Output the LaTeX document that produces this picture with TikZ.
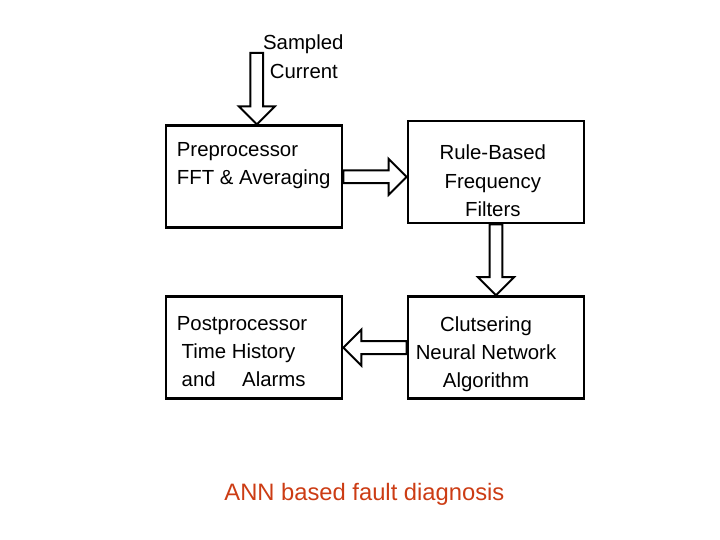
\documentclass[tikz,border=0pt]{standalone}
\usepackage{fontspec}
\setmainfont{Liberation Sans}
\usetikzlibrary{positioning, calc}
\definecolor{captionred}{RGB}{204,60,20}
\tikzset{
	block/.style={draw, line width=2pt, minimum width=4.4cm, minimum height=2.55cm}, % the four boxes
	label/.style={inner sep=0pt, font=\fontsize{14.5}{20}\selectfont}, % text inside the boxes
	hollow/.style={draw, fill=white, line width=1.4pt, line join=miter}, % outline of the block arrows
}
% hollow block arrow from #1 to #2
\newcommand{\hollowarrow}[2]{
	\coordinate (ha-h) at ($(#2)!0.45cm!(#1)$);
	\draw[hollow] ($(#1)!0.16cm!90:(#2)$) -- ($(ha-h)!0.16cm!-90:(#1)$) -- ($(ha-h)!0.45cm!-90:(#1)$) -- (#2)
		-- ($(ha-h)!0.45cm!90:(#1)$) -- ($(ha-h)!0.16cm!90:(#1)$) -- ($(#1)!0.16cm!-90:(#2)$) -- cycle;
}

\begin{document}
\begin{tikzpicture}
	\useasboundingbox (0,0) rectangle (18,-13.5);
			\node[block] (pre) at (6.35,-4.42) {};
			\node[block, right=1.58cm of pre, yshift=0.12cm] (rule) {};
			\node[block, below=1.65cm of pre] (post) {};
			\node[block, right=1.58cm of post] (clust) {};
			\coordinate (in) at (6.42,-1.32);
	% texts
			\node[label, anchor=north west, align=left] (pretext) at ($(pre.north west)+(0.3,-0.45)$) {Preprocessor\\FFT \& Averaging};
			\node[label, align=center] (ruletext) at ($(rule.center)+(-0.08,-0.22)$) {Rule-Based\\Frequency\\Filters};
			\node[label, anchor=north west, align=left] (posttext) at ($(post.north west)+(0.42,-0.53)$) {\hspace*{-0.12cm}Postprocessor\\Time History\\and\hspace{1.3em}Alarms};
			\node[label, align=center] (clusttext) at ($(clust.center)+(-0.25,-0.17)$) {Clutsering\\Neural Network\\Algorithm};
			\node[label, anchor=base west, align=left] (intext) at (6.57,-1.95) {Sampled\\\hspace*{0.17cm}Current};
			\node[anchor=base, text=captionred, font=\fontsize{16.9}{20}\selectfont] (caption) at (9.11,-12.5) {ANN based fault diagnosis};
	% connectors
	\hollowarrow{in}{pre.north -| in}
	\hollowarrow{pre.east}{pre.east -| rule.west}
	\hollowarrow{rule.south}{rule.south |- clust.north}
	\hollowarrow{clust.west}{clust.west -| post.east}
\end{tikzpicture}
\end{document}
